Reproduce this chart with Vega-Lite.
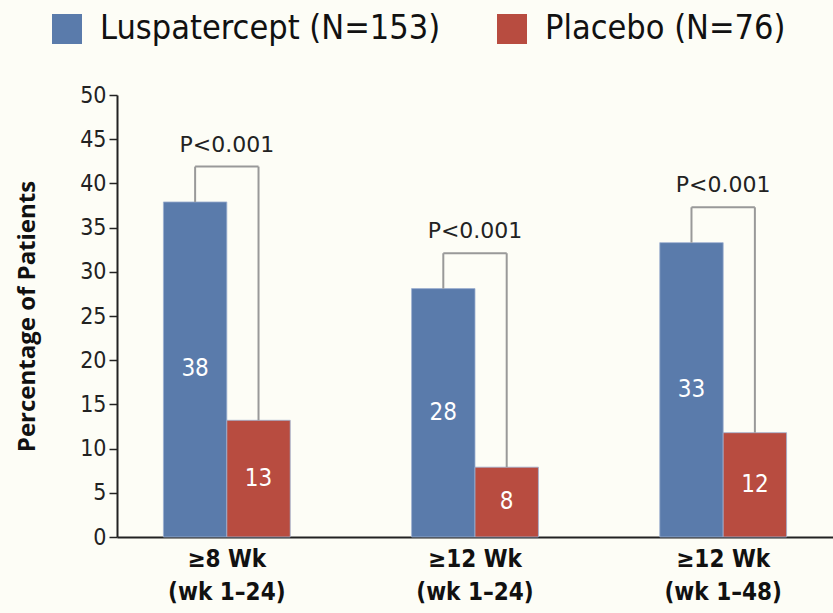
{
  "$schema": "https://vega.github.io/schema/vega-lite/v6.json",
  "width": 716,
  "height": 442,
  "autosize": {"type": "none"},
  "padding": {"left": 117, "top": 95, "right": 0, "bottom": 76},
  "background": "#fdfdf6",
  "config": {"view": {"stroke": null}, "font": "'DejaVu Sans Condensed', 'Open Sans', sans-serif"},
  "datasets": {
    "bars": [
      {"group": "≥8 Wk|(wk 1–24)", "treatment": "Luspatercept (N=153)", "value": 37.9, "label": "38"},
      {"group": "≥8 Wk|(wk 1–24)", "treatment": "Placebo (N=76)", "value": 13.2, "label": "13"},
      {"group": "≥12 Wk|(wk 1–24)", "treatment": "Luspatercept (N=153)", "value": 28.1, "label": "28"},
      {"group": "≥12 Wk|(wk 1–24)", "treatment": "Placebo (N=76)", "value": 7.9, "label": "8"},
      {"group": "≥12 Wk|(wk 1–48)", "treatment": "Luspatercept (N=153)", "value": 33.3, "label": "33"},
      {"group": "≥12 Wk|(wk 1–48)", "treatment": "Placebo (N=76)", "value": 11.8, "label": "12"}
    ],
    "brackets": [
      {"group": "≥8 Wk|(wk 1–24)", "lusp": 37.9, "plac": 13.2, "p": "P<0.001"},
      {"group": "≥12 Wk|(wk 1–24)", "lusp": 28.1, "plac": 7.9, "p": "P<0.001"},
      {"group": "≥12 Wk|(wk 1–48)", "lusp": 33.3, "plac": 11.8, "p": "P<0.001"}
    ]
  },
  "encoding": {
    "x": {
      "field": "group",
      "type": "nominal",
      "sort": null,
      "scale": {"domain": ["≥8 Wk|(wk 1–24)", "≥12 Wk|(wk 1–24)", "≥12 Wk|(wk 1–48)"], "paddingInner": 0.489, "paddingOuter": 0.187},
      "axis": {
        "title": null,
        "labelAngle": 0,
        "labelExpr": "split(datum.label, '|')",
        "labelFontSize": 24,
        "labelFontWeight": "bold",
        "labelColor": "#111",
        "labelLineHeight": 33,
        "labelPadding": 10,
        "ticks": false,
        "domainColor": "#222",
        "domainWidth": 2
      }
    }
  },
  "layer": [
    {
      "data": {"name": "bars"},
      "mark": {"type": "bar", "stroke": "#9db0d0", "strokeWidth": 0.8},
      "encoding": {
        "xOffset": {"field": "treatment", "sort": ["Luspatercept (N=153)", "Placebo (N=76)"]},
        "y": {
          "field": "value",
          "type": "quantitative",
          "scale": {"domain": [0, 50]},
          "axis": {
            "values": [0, 5, 10, 15, 20, 25, 30, 35, 40, 45, 50],
            "grid": false,
            "title": "Percentage of Patients",
            "titleFont": "Open Sans",
            "titleFontSize": 24,
            "titleFontWeight": "bold",
            "titleColor": "#111",
            "titlePadding": 40,
            "labelFontSize": 23,
            "labelColor": "#222",
            "labelPadding": 3,
            "tickSize": 8,
            "tickColor": "#222",
            "tickWidth": 1.5,
            "domainColor": "#222",
            "domainWidth": 2
          }
        },
        "color": {
          "field": "treatment",
          "type": "nominal",
          "scale": {"domain": ["Luspatercept (N=153)", "Placebo (N=76)"], "range": ["#5a7bab", "#b84c40"]},
          "legend": {
            "title": null,
            "orient": "none",
            "legendX": -67,
            "legendY": -83,
            "direction": "horizontal",
            "symbolType": "square",
            "symbolSize": 900,
            "symbolStrokeWidth": 0,
            "labelFontSize": 34,
            "labelColor": "#111",
            "labelOffset": 16,
            "columnPadding": 54,
            "labelLimit": 500
          }
        }
      }
    },
    {
      "data": {"name": "bars"},
      "transform": [{"calculate": "datum.value / 2", "as": "mid"}],
      "mark": {"type": "text", "color": "white", "fontSize": 24, "baseline": "middle"},
      "encoding": {
        "xOffset": {"field": "treatment", "sort": ["Luspatercept (N=153)", "Placebo (N=76)"]},
        "y": {"field": "mid", "type": "quantitative"},
        "text": {"field": "label"}
      }
    },
    {
      "data": {"name": "brackets"},
      "transform": [{"calculate": "datum.lusp + 4", "as": "top"}],
      "layer": [
        {
          "mark": {"type": "rule", "color": "#999", "strokeWidth": 2},
          "encoding": {
            "x": {"field": "group", "type": "nominal", "sort": null, "bandPosition": 0.25},
            "y": {"field": "lusp", "type": "quantitative"},
            "y2": {"field": "top"}
          }
        },
        {
          "mark": {"type": "rule", "color": "#999", "strokeWidth": 2},
          "encoding": {
            "x": {"field": "group", "type": "nominal", "sort": null, "bandPosition": 0.75},
            "y": {"field": "plac", "type": "quantitative"},
            "y2": {"field": "top"}
          }
        },
        {
          "mark": {"type": "rule", "color": "#999", "strokeWidth": 2},
          "encoding": {
            "x": {"field": "group", "type": "nominal", "sort": null, "bandPosition": 0.25},
            "x2": {"field": "group", "bandPosition": 0.75},
            "y": {"field": "top", "type": "quantitative"}
          }
        },
        {
          "mark": {"type": "text", "font": "DejaVu Sans", "fontSize": 22, "color": "#222", "baseline": "middle", "dy": -22},
          "encoding": {
            "y": {"field": "top", "type": "quantitative"},
            "text": {"field": "p"}
          }
        }
      ]
    }
  ]
}
